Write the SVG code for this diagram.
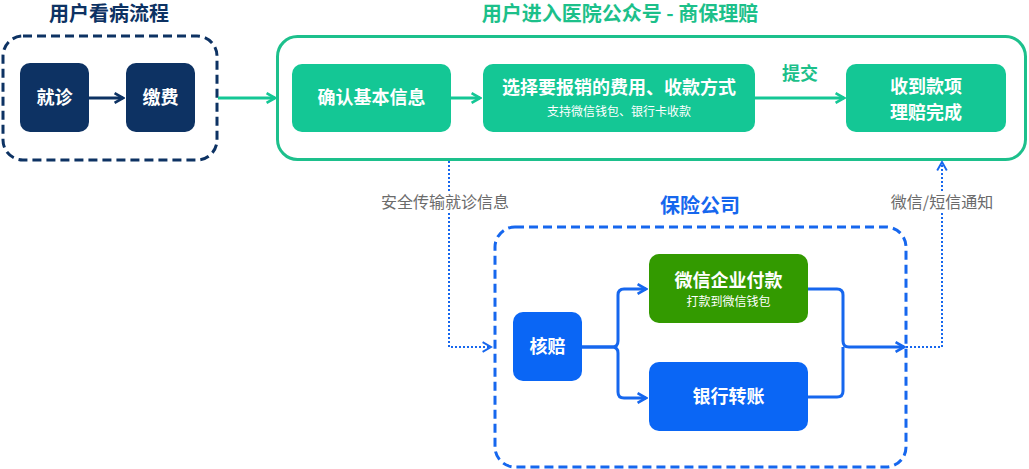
<svg xmlns="http://www.w3.org/2000/svg" width="1029" height="469" viewBox="0 0 1029 469">
<style>
text{font-family:"Noto Sans CJK SC","Noto Sans",sans-serif;font-weight:bold;text-anchor:middle}
.w{fill:#fff}
.nv{fill:#0d3263}
.lbl{font-weight:normal;fill:#6b6b6b;font-size:16px}
.sub{font-size:12px;font-weight:normal}
.n{font-size:18px}
</style>
<defs>
<marker id="an" viewBox="0 0 10 10" refX="8" refY="5" markerWidth="4" markerHeight="4" orient="auto"><path d="M1,1 L8,5 L1,9" fill="none" stroke="#0d3263" stroke-width="2.2"/></marker>
<marker id="ag" viewBox="0 0 10 10" refX="8" refY="5" markerWidth="4" markerHeight="4" orient="auto"><path d="M1,1 L8,5 L1,9" fill="none" stroke="#14c795" stroke-width="2.2"/></marker>
<marker id="ab" viewBox="0 0 10 10" refX="8" refY="5" markerWidth="4" markerHeight="4" orient="auto"><path d="M1,1 L8,5 L1,9" fill="none" stroke="#1667ee" stroke-width="2.2"/></marker>
<marker id="ad" viewBox="0 0 10 10" refX="8" refY="5" markerWidth="6" markerHeight="6" orient="auto"><path d="M1,1 L8,5 L1,9" fill="none" stroke="#1667ee" stroke-width="1.6"/></marker>
</defs>

<g id="groups">
<g id="patient-group">
<text x="109" y="21" font-size="20" class="nv">用户看病流程</text>
<rect x="3" y="36" width="214" height="124" rx="20" fill="none" stroke="#0d3263" stroke-width="3" stroke-dasharray="9,5"/>
</g>
<g id="hospital-group">
<text x="620" y="21" font-size="20" fill="#1cc08a">用户进入医院公众号 - 商保理赔</text>
<rect x="277.5" y="36.5" width="748" height="123" rx="20" fill="none" stroke="#1dc08c" stroke-width="3"/>
</g>
<g id="insurer-group">
<text x="700" y="213" font-size="20" fill="#1667ee">保险公司</text>
<rect x="495" y="227" width="411" height="240" rx="20" fill="none" stroke="#1667ee" stroke-width="3" stroke-dasharray="9,5"/>
</g>
</g>

<g id="connectors" fill="none" stroke-linejoin="round">
<line x1="89" y1="98" x2="123" y2="98" stroke="#0d3263" stroke-width="3" marker-end="url(#an)"/>
<line x1="218" y1="98" x2="275" y2="98" stroke="#14c795" stroke-width="3" marker-end="url(#ag)"/>
<line x1="451" y1="98" x2="480" y2="98" stroke="#14c795" stroke-width="3" marker-end="url(#ag)"/>
<line x1="755" y1="98" x2="844" y2="98" stroke="#14c795" stroke-width="3" marker-end="url(#ag)"/>
<path d="M449,161 V347 H491" stroke="#1667ee" stroke-width="2" stroke-dasharray="2,2" marker-end="url(#ad)"/>
<path d="M906,347 H942 V162" stroke="#1667ee" stroke-width="2" stroke-dasharray="2,2" marker-end="url(#ad)"/>
<path d="M582,347 H612 Q618,347 618,341 V295 Q618,289 624,289 H646" stroke="#1667ee" stroke-width="3" marker-end="url(#ab)"/>
<path d="M582,347 H612 Q618,347 618,353 V392 Q618,398 624,398 H646" stroke="#1667ee" stroke-width="3" marker-end="url(#ab)"/>
<path d="M808,289 H837 Q843,289 843,295 V341 Q843,347 849,347 H904" stroke="#1667ee" stroke-width="3" marker-end="url(#ab)"/>
<path d="M808,397 H837 Q843,397 843,391 V347" stroke="#1667ee" stroke-width="3"/>
<text x="800" y="80" font-size="18" fill="#1cc08a" stroke="none">提交</text>
<rect x="380" y="192" width="130" height="20" fill="#fff" stroke="none"/>
<text x="445" y="208" class="lbl" stroke="none">安全传输就诊信息</text>
<rect x="890" y="192" width="105" height="20" fill="#fff" stroke="none"/>
<text x="942" y="208" class="lbl" stroke="none">微信/短信通知</text>
</g>

<g id="n-jiuzhen"><rect x="20" y="63" width="69" height="69" rx="10" fill="#0d3263"/><text x="54.5" y="104" class="w n">就诊</text></g>
<g id="n-jiaofei"><rect x="126" y="63" width="69" height="69" rx="10" fill="#0d3263"/><text x="160.5" y="104" class="w n">缴费</text></g>
<g id="n-confirm"><rect x="292" y="64" width="159" height="68" rx="10" fill="#14c795"/><text x="371.5" y="104" class="w n">确认基本信息</text></g>
<g id="n-select"><rect x="483" y="64" width="272" height="68" rx="10" fill="#14c795"/><text x="619" y="94" class="w n">选择要报销的费用、收款方式</text><text x="619" y="116" class="w sub">支持微信钱包、银行卡收款</text></g>
<g id="n-done"><rect x="846" y="64" width="160" height="68" rx="10" fill="#14c795"/><text x="926" y="93" class="w n">收到款项</text><text x="926" y="119" class="w n">理赔完成</text></g>
<g id="n-hepei"><rect x="513" y="312" width="69" height="69" rx="10" fill="#0a66f5"/><text x="547.5" y="353" class="w n">核赔</text></g>
<g id="n-wechat"><rect x="649" y="254" width="159" height="69" rx="10" fill="#339a00"/><text x="728.5" y="287" class="w n">微信企业付款</text><text x="728.5" y="306" class="w sub">打款到微信钱包</text></g>
<g id="n-bank"><rect x="649" y="362" width="159" height="69" rx="10" fill="#0a66f5"/><text x="728.5" y="403" class="w n">银行转账</text></g>
</svg>
